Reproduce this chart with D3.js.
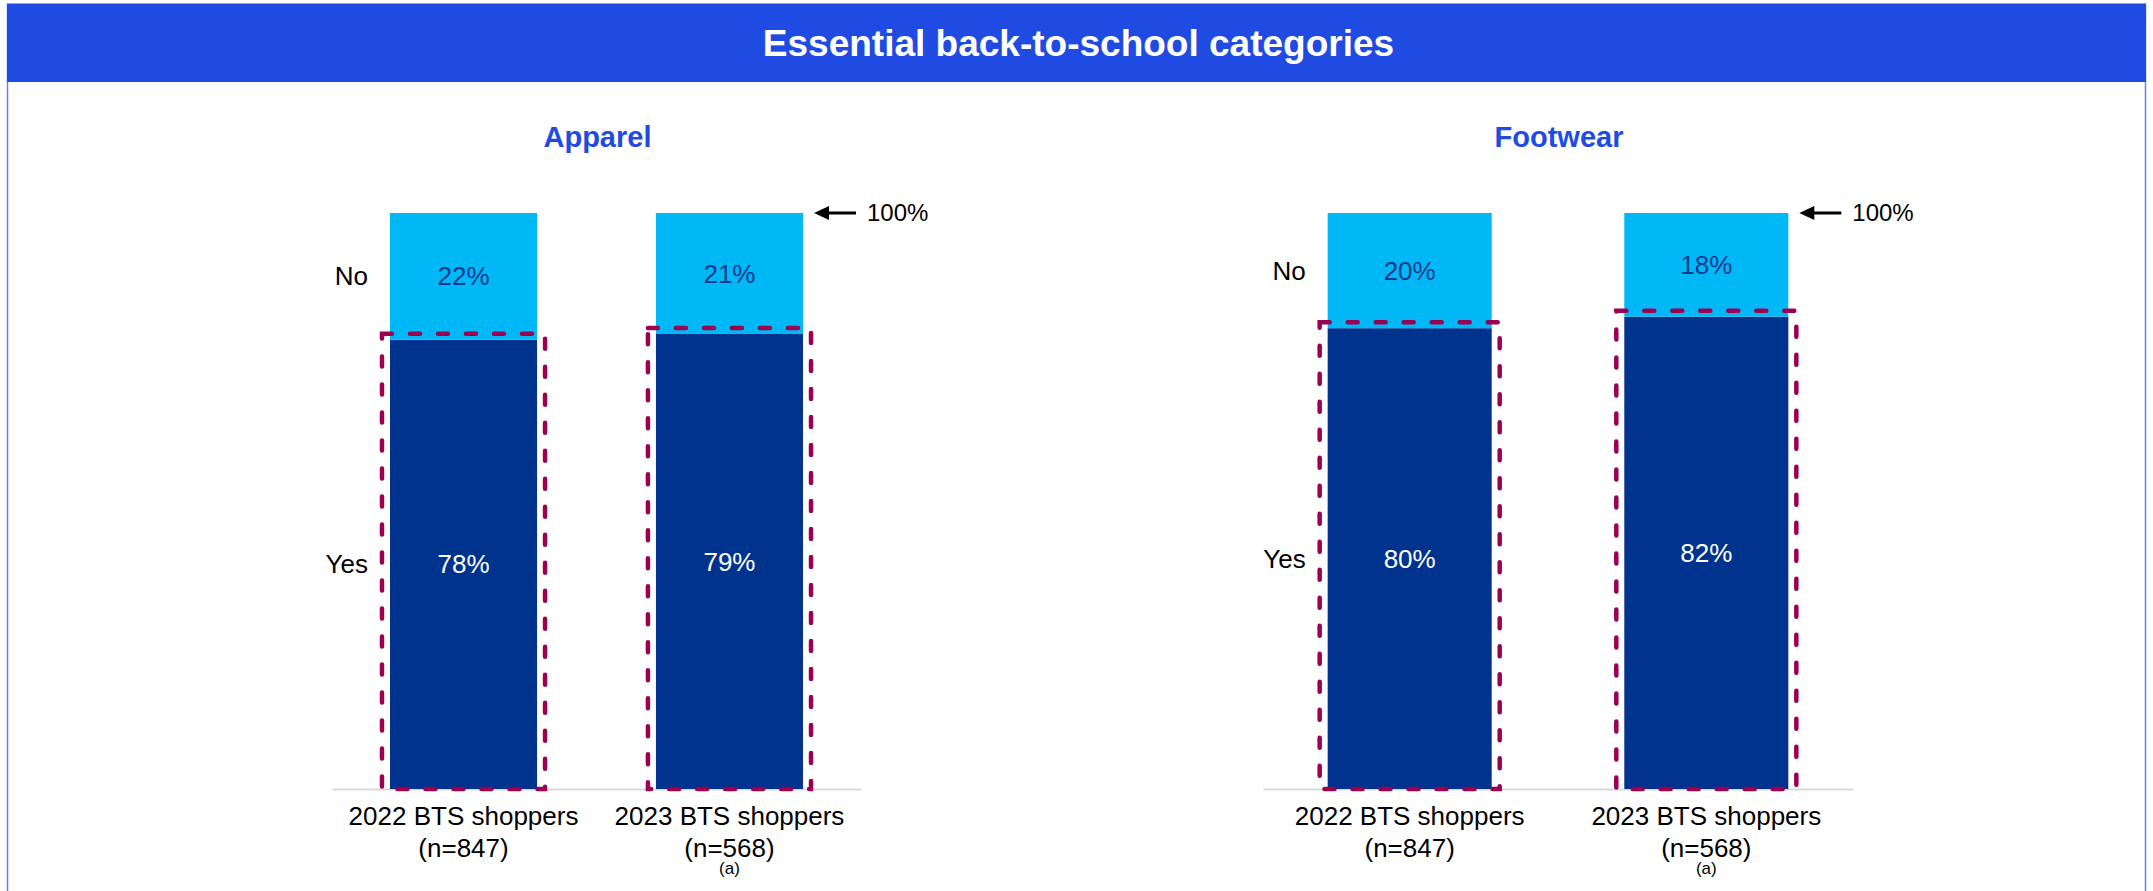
<!DOCTYPE html>
<html>
<head>
<meta charset="utf-8">
<script src="https://cdn.jsdelivr.net/npm/d3@7"></script>
<style>
  body { margin: 0; background: #fff; }
  text { font-family: "Liberation Sans", Arial, sans-serif; }
</style>
</head>
<body>
<script>
// data
var title = "Essential back-to-school categories";
var panelNames = ["Apparel", "Footwear"];
var categories = ["2022 BTS shoppers", "2023 BTS shoppers"];
var sampleSizes = ["(n=847)", "(n=568)"];
var footnotes = ["", "(a)"];
var segmentNames = ["Yes", "No"];
var apparelYes = [78, 79];
var apparelNo = [22, 21];
var footwearYes = [80, 82];
var footwearNo = [20, 18];
var topLabel = "100%";

var W = 2153, H = 891;
var blue = "#1f4be3", lightBar = "#00b8f5", darkBar = "#00338d", dash = "#9b0052";

var svg = d3.select("body").append("svg")
	.attr("width", W)
	.attr("height", H);

// frame + header band
svg.append("rect")
	.attr("x", 7.5).attr("y", 4)
	.attr("width", W - 15).attr("height", H + 20)
	.style("fill", "none")
	.style("stroke", "#6a82e8")
	.style("stroke-width", 1.5);
svg.append("rect")
	.attr("x", 7).attr("y", 4)
	.attr("width", W - 14).attr("height", 78)
	.style("fill", blue);
svg.append("text")
	.text(title)
	.attr("x", W / 2 + 2).attr("y", 43)
	.attr("dy", "0.35em")
	.attr("text-anchor", "middle")
	.style("font-size", "37px")
	.style("font-weight", "bold")
	.style("fill", "#fff");

var panels = [
	{ name: panelNames[0], yes: apparelYes, no: apparelNo, x0: 332, x1: 861 },
	{ name: panelNames[1], yes: footwearYes, no: footwearNo, x0: 1263, x1: 1853 }
];

var y = d3.scaleLinear().domain([0, 100]).range([789, 213]);

panels.forEach(function(p){
	var g = svg.append("g");
	var x = d3.scaleBand()
		.domain(categories)
		.range([p.x0, p.x1])
		.paddingInner(0.447)
		.paddingOuter(0.218);
	var rows = categories.map(function(c, i){
		return { cat: c, n: sampleSizes[i], note: footnotes[i], Yes: p.yes[i], No: p.no[i] };
	});
	var stack = d3.stack().keys(segmentNames)(rows);

	// panel title
	g.append("text")
		.text(p.name)
		.attr("x", (p.x0 + p.x1) / 2 + 1)
		.attr("y", 137)
		.attr("dy", "0.35em")
		.attr("text-anchor", "middle")
		.style("font-size", "29px")
		.style("font-weight", "bold")
		.style("fill", blue);

	// axis line
	g.append("g")
		.attr("transform", "translate(0," + y(0) + ")")
		.call(d3.axisBottom(x).tickSize(0).tickFormat(""))
		.call(function(a){
			a.select(".domain").style("stroke", "#d9d9d9").style("stroke-width", 2);
		});

	// stacked bars
	stack.forEach(function(layer){
		var seg = layer.key;
		g.selectAll(".bar-" + seg)
			.data(layer)
			.enter()
			.append("rect")
			.attr("x", function(d){ return x(d.data.cat); })
			.attr("width", x.bandwidth())
			.attr("y", function(d){ return y(d[1]); })
			.attr("height", function(d){ return y(d[0]) - y(d[1]); })
			.style("fill", seg === "Yes" ? darkBar : lightBar);
		g.selectAll(".lbl-" + seg)
			.data(layer)
			.enter()
			.append("text")
			.text(function(d){ return (d[1] - d[0]) + "%"; })
			.attr("x", function(d){ return x(d.data.cat) + x.bandwidth() / 2; })
			.attr("y", function(d){ return (y(d[0]) + y(d[1])) / 2; })
			.attr("dy", "0.35em")
			.attr("text-anchor", "middle")
			.style("font-size", "26px")
			.style("fill", seg === "Yes" ? "#fff" : "#0b3a8e");
		// row label on the left of first bar
		var first = layer[0];
		g.append("text")
			.text(seg)
			.attr("x", x(categories[0]) - 22)
			.attr("y", (y(first[0]) + y(first[1])) / 2)
			.attr("dy", "0.35em")
			.attr("text-anchor", "end")
			.style("font-size", "26px")
			.style("fill", "#000");
	});

	// dashed highlight around the Yes part
	g.selectAll(".hl")
		.data(rows)
		.enter()
		.append("rect")
		.attr("x", function(d){ return x(d.cat) - 8; })
		.attr("width", x.bandwidth() + 16)
		.attr("y", function(d){ return y(d.Yes) - 6; })
		.attr("height", function(d){ return y(0) - y(d.Yes) + 6; })
		.style("fill", "none")
		.style("stroke", dash)
		.style("stroke-width", 4.5)
		.style("stroke-dasharray", "10,18")
		.style("stroke-linecap", "round");

	// 100% marker
	var ax = x(categories[1]) + x.bandwidth() + 11, ay = y(100);
	g.append("path")
		.attr("d", "M" + ax + "," + ay + "l15,-7l0,14z")
		.style("fill", "#000");
	g.append("line")
		.attr("x1", ax + 12).attr("x2", ax + 42)
		.attr("y1", ay).attr("y2", ay)
		.style("stroke", "#000")
		.style("stroke-width", 3);
	g.append("text")
		.text(topLabel)
		.attr("x", ax + 53).attr("y", ay)
		.attr("dy", "0.35em")
		.style("font-size", "24px")
		.style("fill", "#000");

	// category labels
	var cat = g.selectAll(".cat")
		.data(rows)
		.enter()
		.append("text")
		.attr("text-anchor", "middle")
		.style("font-size", "26px")
		.style("fill", "#000");
	cat.append("tspan")
		.attr("x", function(d){ return x(d.cat) + x.bandwidth() / 2; })
		.attr("y", 825)
		.text(function(d){ return d.cat; });
	cat.append("tspan")
		.attr("x", function(d){ return x(d.cat) + x.bandwidth() / 2; })
		.attr("y", 857)
		.text(function(d){ return d.n; });
	g.selectAll(".note")
		.data(rows)
		.enter()
		.append("text")
		.text(function(d){ return d.note; })
		.attr("x", function(d){ return x(d.cat) + x.bandwidth() / 2; })
		.attr("y", 874)
		.attr("text-anchor", "middle")
		.style("font-size", "17px")
		.style("fill", "#000");
});
</script>
</body>
</html>
